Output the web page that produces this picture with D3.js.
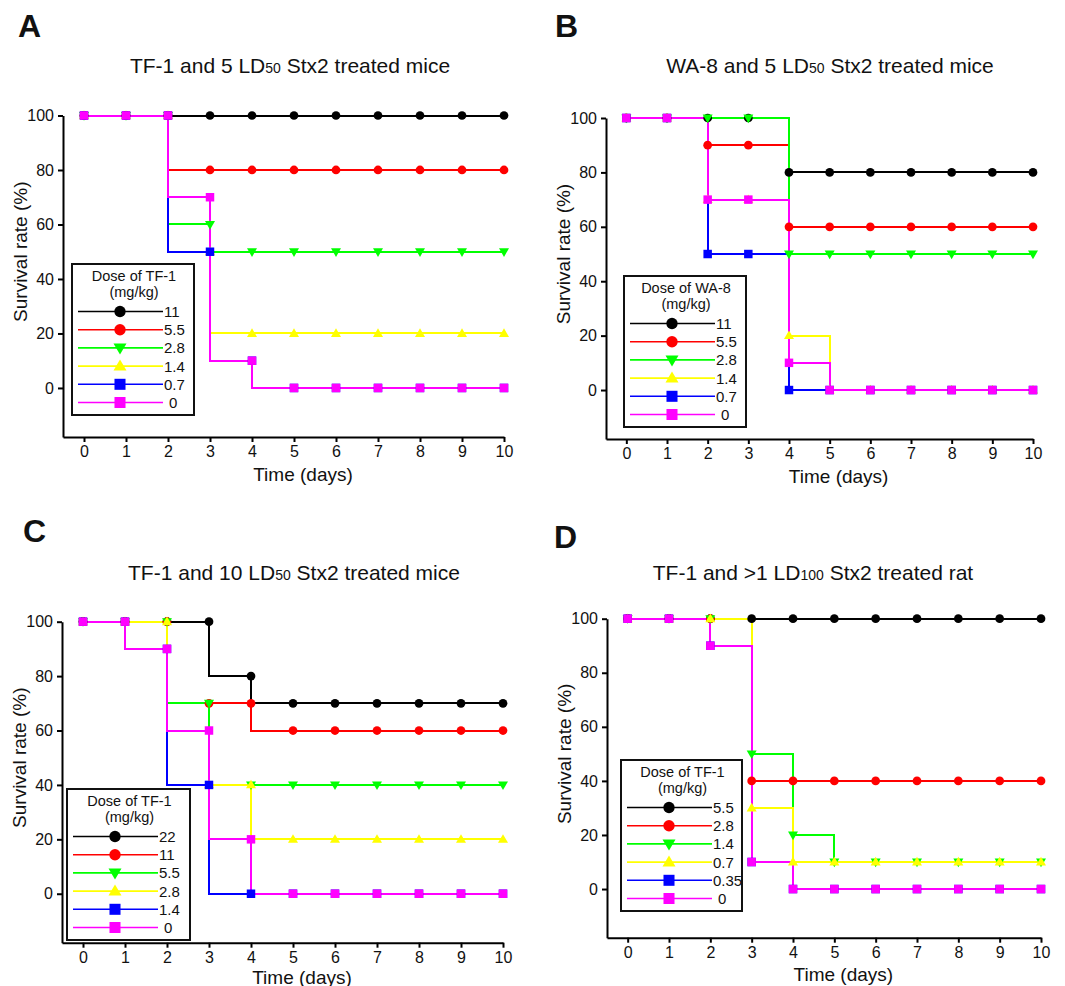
<!DOCTYPE html>
<html>
<head>
<meta charset="utf-8">
<script src="https://cdn.jsdelivr.net/npm/d3@7"></script>
<style>
  body { margin: 0; background: #fff; }
  svg { display: block; }
  text { font-family: "Liberation Sans", Arial, sans-serif; fill: #111; }
</style>
</head>
<body>
<script>
// shared
const days = [0, 1, 2, 3, 4, 5, 6, 7, 8, 9, 10];
const yTicks = [0, 20, 40, 60, 80, 100];
const colors = ["#000000", "#ff0000", "#00ff00", "#ffff00", "#0000ff", "#ff00ff"];
const shapes = ["circle", "circle", "down", "up", "square", "square"];

// A: TF-1 and 5 LD50 Stx2, mice
const dosesA = ["11", "5.5", "2.8", "1.4", "0.7", "0"];
const survA = [
  [100, 100, 100, 100, 100, 100, 100, 100, 100, 100, 100],
  [100, 100, 100, 80, 80, 80, 80, 80, 80, 80, 80],
  [100, 100, 100, 60, 50, 50, 50, 50, 50, 50, 50],
  [100, 100, 100, 50, 20, 20, 20, 20, 20, 20, 20],
  [100, 100, 100, 50, 10, 0, 0, 0, 0, 0, 0],
  [100, 100, 100, 70, 10, 0, 0, 0, 0, 0, 0]
];

// B: WA-8 and 5 LD50 Stx2, mice
const dosesB = ["11", "5.5", "2.8", "1.4", "0.7", "0"];
const survB = [
  [100, 100, 100, 100, 80, 80, 80, 80, 80, 80, 80],
  [100, 100, 90, 90, 60, 60, 60, 60, 60, 60, 60],
  [100, 100, 100, 100, 50, 50, 50, 50, 50, 50, 50],
  [100, 100, 70, 70, 20, 0, 0, 0, 0, 0, 0],
  [100, 100, 50, 50, 0, 0, 0, 0, 0, 0, 0],
  [100, 100, 70, 70, 10, 0, 0, 0, 0, 0, 0]
];

// C: TF-1 and 10 LD50 Stx2, mice
const dosesC = ["22", "11", "5.5", "2.8", "1.4", "0"];
const survC = [
  [100, 100, 100, 100, 80, 70, 70, 70, 70, 70, 70],
  [100, 100, 100, 70, 70, 60, 60, 60, 60, 60, 60],
  [100, 100, 100, 70, 40, 40, 40, 40, 40, 40, 40],
  [100, 100, 100, 40, 40, 20, 20, 20, 20, 20, 20],
  [100, 100, 90, 40, 0, 0, 0, 0, 0, 0, 0],
  [100, 100, 90, 60, 20, 0, 0, 0, 0, 0, 0]
];

// D: TF-1 and >1 LD100 Stx2, rat
const dosesD = ["5.5", "2.8", "1.4", "0.7", "0.35", "0"];
const survD = [
  [100, 100, 100, 100, 100, 100, 100, 100, 100, 100, 100],
  [100, 100, 100, 40, 40, 40, 40, 40, 40, 40, 40],
  [100, 100, 100, 50, 20, 10, 10, 10, 10, 10, 10],
  [100, 100, 100, 30, 10, 10, 10, 10, 10, 10, 10],
  [100, 100, 90, 10, 0, 0, 0, 0, 0, 0, 0],
  [100, 100, 90, 10, 0, 0, 0, 0, 0, 0, 0]
];

const panels = [
  { letter: "A", lx: 18, ly: 37, title: ["TF-1 and 5 LD", "50", " Stx2 treated mice"], tx: 290, ty: 73,
    legendTitle: "Dose of TF-1", doses: dosesA, values: survA, curve: d3.curveStepBefore,
    left: 63, right: 504, top: 115.5, bottom: 437, xlab: 481, box: [72, 264, 122, 151] },
  { letter: "B", lx: 555, ly: 37, title: ["WA-8 and 5 LD", "50", " Stx2 treated mice"], tx: 830, ty: 73,
    legendTitle: "Dose of WA-8", doses: dosesB, values: survB, curve: d3.curveStepAfter,
    left: 606, right: 1033, top: 118, bottom: 439, xlab: 483, box: [624, 276, 122, 151] },
  { letter: "C", lx: 23, ly: 542, title: ["TF-1 and 10 LD", "50", " Stx2 treated mice"], tx: 294, ty: 580,
    legendTitle: "Dose of TF-1", doses: dosesC, values: survC, curve: d3.curveStepBefore,
    left: 62, right: 503, top: 621.7, bottom: 942.7, xlab: 984, box: [67, 789, 123, 151] },
  { letter: "D", lx: 554, ly: 548, title: ["TF-1 and >1 LD", "100", " Stx2 treated rat"], tx: 813, ty: 580,
    legendTitle: "Dose of TF-1", doses: dosesD, values: survD, curve: d3.curveStepAfter,
    left: 607, right: 1041, top: 618.7, bottom: 937.7, xlab: 981, box: [621, 760, 121, 151] }
];

const width = 1065, height = 986;

const svg = d3.select("body").append("svg")
  .attr("width", width)
  .attr("height", height)
  .attr("viewBox", [0, 0, width, height]);

function marker(shape, k) {
  if (shape === "circle") return d3.symbol(d3.symbolCircle, 60 * k * k)();
  if (shape === "square") return d3.symbol(d3.symbolSquare, 72 * k * k)();
  const w = 10 * k, h = 8.6 * k;
  const s = shape === "up" ? 1 : -1;
  return `M0,${-s * h * 0.6}L${w / 2},${s * h * 0.4}L${-w / 2},${s * h * 0.4}Z`;
}

panels.forEach(p => {
  const g = svg.append("g");

  const x = d3.scaleLinear().domain([-0.5, 10]).range([p.left, p.right]);
  const y = d3.scaleLinear().domain([-18, 100]).range([p.bottom, p.top]);

  // panel letter
  g.append("text")
    .attr("x", p.lx).attr("y", p.ly)
    .style("font-family", '"Liberation Sans Narrow", "Liberation Sans", Arial, sans-serif')
    .style("font-weight", "bold")
    .style("font-size", "32px")
    .text(p.letter);

  // title with small "50"/"100"
  const t = g.append("text")
    .attr("x", p.tx).attr("y", p.ty)
    .attr("text-anchor", "middle")
    .style("font-size", "21px");
  t.append("tspan").text(p.title[0]);
  t.append("tspan").style("font-size", "14px").text(p.title[1]);
  t.append("tspan").text(p.title[2]);

  // axes
  const yAxis = g.append("g")
    .attr("transform", `translate(${p.left},0)`)
    .call(d3.axisLeft(y).tickValues(yTicks).tickSize(5).tickSizeOuter(0).tickPadding(4));
  const xAxis = g.append("g")
    .attr("transform", `translate(0,${p.bottom})`)
    .call(d3.axisBottom(x).tickValues(days).tickSize(5).tickSizeOuter(0).tickPadding(4));
  [yAxis, xAxis].forEach(a => {
    a.select(".domain").attr("stroke-width", 2);
    a.selectAll(".tick line").attr("stroke-width", 2);
    a.selectAll(".tick text").style("font-size", "16px")
      .style("font-family", '"Liberation Sans", Arial, sans-serif').attr("fill", "#111");
  });

  g.append("text")
    .attr("transform", `translate(${p.left - 36},${y(50)}) rotate(-90)`)
    .attr("text-anchor", "middle")
    .style("font-size", "19px")
    .text("Survival rate (%)");

  g.append("text")
    .attr("x", x(5) + 9).attr("y", p.xlab)
    .attr("text-anchor", "middle")
    .style("font-size", "19px")
    .text("Time (days)");

  // step lines
  const line = d3.line()
    .x((d, i) => x(days[i]))
    .y(d => y(d))
    .curve(p.curve);

  g.append("g")
    .selectAll("path")
    .data(p.values)
    .join("path")
    .attr("fill", "none")
    .attr("stroke", (d, i) => colors[i])
    .attr("stroke-width", 2)
    .attr("shape-rendering", "crispEdges")
    .attr("d", line);

  // markers on top of all lines
  g.append("g")
    .selectAll("g")
    .data(p.values)
    .join("g")
    .attr("fill", (d, i) => colors[i])
    .each(function(vals, i) {
      d3.select(this).selectAll("path")
        .data(vals)
        .join("path")
        .attr("transform", (v, j) => `translate(${x(days[j])},${y(v)})`)
        .attr("d", marker(shapes[i], 1));
    });

  // legend
  const [bx, by, bw, bh] = p.box;
  const lg = g.append("g").attr("transform", `translate(${bx},${by})`);
  lg.append("rect")
    .attr("width", bw).attr("height", bh)
    .attr("fill", "#fff").attr("stroke", "#111").attr("stroke-width", 2);
  lg.append("text").attr("x", bw / 2 + 1).attr("y", 17)
    .attr("text-anchor", "middle").style("font-size", "14.5px").text(p.legendTitle);
  lg.append("text").attr("x", bw / 2 + 1).attr("y", 33)
    .attr("text-anchor", "middle").style("font-size", "14.5px").text("(mg/kg)");

  const row = lg.selectAll("g.row")
    .data(p.doses)
    .join("g")
    .attr("class", "row")
    .attr("transform", (d, i) => `translate(0,${47.5 + i * 18.2})`);
  row.append("line")
    .attr("x1", 6).attr("x2", 91)
    .attr("stroke", (d, i) => colors[i]).attr("stroke-width", 1.6);
  row.append("path")
    .attr("transform", "translate(48,0)")
    .attr("d", (d, i) => marker(shapes[i], 1.3))
    .attr("fill", (d, i) => colors[i]);
  row.append("text")
    .attr("x", d => d === "0" ? 97 : 92).attr("y", 5.5)
    .style("font-size", "15px")
    .text(d => d);
});
</script>
</body>
</html>
